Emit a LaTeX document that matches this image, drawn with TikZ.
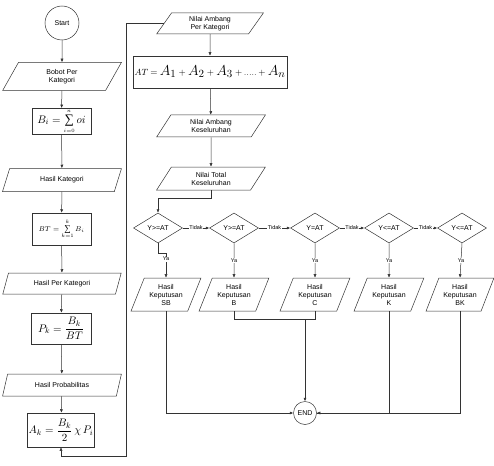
\documentclass[tikz,border=0pt]{standalone}
\usepackage{amsmath}
\usepackage{fontspec}
\setsansfont{Liberation Sans}
\setmainfont{Liberation Serif}
\newfontfamily\sumfont{Liberation Serif}
\usepackage{tikz}
\usetikzlibrary{shapes.geometric, arrows.meta}

\newcommand{\bigA}[1]{{\fontsize{15}{16}\selectfont$A_{#1}$}}
\newcommand{\sumop}[1]{\mathop{\hbox{\sumfont\fontsize{#1}{#1}\selectfont ∑}}\limits}

\tikzset{
	io/.style={draw, trapezium, trapezium left angle=70, trapezium right angle=110, trapezium stretches=true, align=center, inner sep=1pt, font=\sffamily\fontsize{7}{8}\selectfont},
	iosmall/.style={io, trapezium left angle=63, trapezium right angle=117},
	proc/.style={draw, rectangle, align=center, inner sep=1pt},
	decis/.style={draw, diamond, inner sep=0pt, minimum width=49pt, minimum height=30pt, font=\sffamily\fontsize{7}{8}\selectfont},
	term/.style={draw, circle, inner sep=0pt, font=\sffamily\fontsize{7}{8}\selectfont},
	lbl/.style={fill=white, inner sep=0.5pt, font=\sffamily\fontsize{5.5}{6}\selectfont}
}

\begin{document}
\begin{tikzpicture}[x=1pt, y=1pt, line width=0.5pt, draw=black!80, >={Latex[length=3.5pt,width=3pt]}]
	\useasboundingbox (0,0) rectangle (494,-465);
	
	% left column
	\node[term, minimum size=34pt] (start) at (62,-23) {Start};
	\node[io, minimum width=119pt, minimum height=28pt] (bobot) at (62,-76.5) {Bobot Per\\Kategori};
	\node[proc, minimum width=59pt, minimum height=23pt, font=\fontsize{11}{12}\selectfont] (bi) at (61.5,-121.5) {$B_{i}=\sumop{13}_{\scriptscriptstyle i=0}^{\scriptscriptstyle n}oi$};
	\node[io, minimum width=119pt, minimum height=23pt] (hkat) at (62,-180) {Hasil Kategori};
	\node[proc, minimum width=59pt, minimum height=32pt, font=\fontsize{7.5}{8}\selectfont] (bt) at (61.5,-229) {$BT=\sumop{9}_{\scriptscriptstyle k=1}^{\scriptscriptstyle k}B_{i}$};
	\node[io, minimum width=119pt, minimum height=21pt] (hperkat) at (62,-283.5) {Hasil Per Kategori};
	\node[proc, minimum width=60pt, minimum height=31pt, font=\fontsize{11}{12}\selectfont] (pk) at (61,-328.5) {$P_{k}=\dfrac{B_{k}}{BT}$};
	\node[io, minimum width=119pt, minimum height=22pt] (hprob) at (62,-385) {Hasil Probabilitas};
	\node[proc, minimum width=60pt, minimum height=34pt, font=\fontsize{11}{12}\selectfont] (ak) at (61,-430) {$A_{k}=\dfrac{B_{k}}{2}\,\chi\,P_{i}$};
	
	% right column
	\node[iosmall, minimum width=107pt, minimum height=21pt] (napk) at (210,-23.5) {Nilai Ambang\\Per Kategori};
	\node[proc, minimum width=154pt, minimum height=32pt, font=\fontsize{9}{10}\selectfont] (at) at (210,-72) {$AT$ $=$ \bigA{1} $+$ \bigA{2} $+$ \bigA{3} $+\,.....\,+$ \bigA{n}};
	\node[iosmall, minimum width=109pt, minimum height=22pt] (nak) at (211,-126) {Nilai Ambang\\Keseluruhan};
	\node[iosmall, minimum width=109pt, minimum height=23pt] (ntk) at (211,-178.5) {Nilai Total\\Keseluruhan};
	
	% decisions
	\node[decis] (d1) at (158,-228) {Y>=AT};
	\node[decis] (d2) at (234,-228) {Y>=AT};
	\node[decis] (d3) at (315,-228) {Y=AT};
	\node[decis] (d4) at (389,-228) {Y<=AT};
	\node[decis] (d5) at (462,-228) {Y<=AT};
	
	% results
	\node[io, trapezium left angle=65, trapezium right angle=115, minimum width=70pt, minimum height=33pt] (sb) at (166,-294.5) {Hasil\\Keputusan\\SB};
	\node[io, trapezium left angle=65, trapezium right angle=115, minimum width=70pt, minimum height=33pt] (b) at (234,-294.5) {Hasil\\Keputusan\\B};
	\node[io, trapezium left angle=65, trapezium right angle=115, minimum width=70pt, minimum height=33pt] (c) at (315,-294.5) {Hasil\\Keputusan\\C};
	\node[io, trapezium left angle=65, trapezium right angle=115, minimum width=70pt, minimum height=33pt] (k) at (389,-294.5) {Hasil\\Keputusan\\K};
	\node[io, trapezium left angle=65, trapezium right angle=115, minimum width=68pt, minimum height=33pt] (bk) at (460,-294.5) {Hasil\\Keputusan\\BK};
	
	\node[term, minimum size=23pt] (end) at (305,-413) {END};
	
	\coordinate (fb) at (126,-456);
	\coordinate (jc) at (305,-319);
	
	% left flow
	\draw[->] (start) -- (bobot);
	\draw[->] (bobot) -- (bi);
	\draw[->] (bi) -- (hkat);
	\draw[->] (hkat) -- (bt);
	\draw[->] (bt) -- (hperkat);
	\draw[->] (hperkat) -- (pk);
	\draw[->] (pk) -- (hprob);
	\draw[->] (hprob) -- (ak);
	\draw[->] (napk.west) -| (fb) -| (ak.south);
	
	% right flow
	\draw[->] (napk) -- (at);
	\draw[->] (at) -- (nak);
	\draw[->] (nak) -- (ntk);
	\draw[->] (ntk.south) -- ++(0,-8) -| (d1.north);
	
	\draw[->] (d1) -- node[lbl] {Tidak} (d2);
	\draw[->] (d2) -- node[lbl] {Tidak} (d3);
	\draw[->] (d3) -- node[lbl] {Tidak} (d4);
	\draw[->] (d4) -- node[lbl] {Tidak} (d5);
	
	\draw[->] (d1.south) -- ++(0,-10) -| node[lbl, pos=0.62] {Ya} (sb.north);
	\draw[->] (d2.south) -- node[lbl] {Ya} (b.north);
	\draw[->] (d3.south) -- node[lbl] {Ya} (c.north);
	\draw[->] (d4.south) -- node[lbl] {Ya} (k.north);
	\draw[->] (d5.south) -- node[lbl] {Ya} (bk.north);
	
	\draw[->] (sb.south) |- (end.west);
	\draw (b.south) |- (jc);
	\draw (c.south) |- (jc);
	\draw[->] (jc) -- (end.north);
	\draw[->] (k.south) |- (end.east);
	\draw (bk.south) |- (end.east);
\end{tikzpicture}
\end{document}
